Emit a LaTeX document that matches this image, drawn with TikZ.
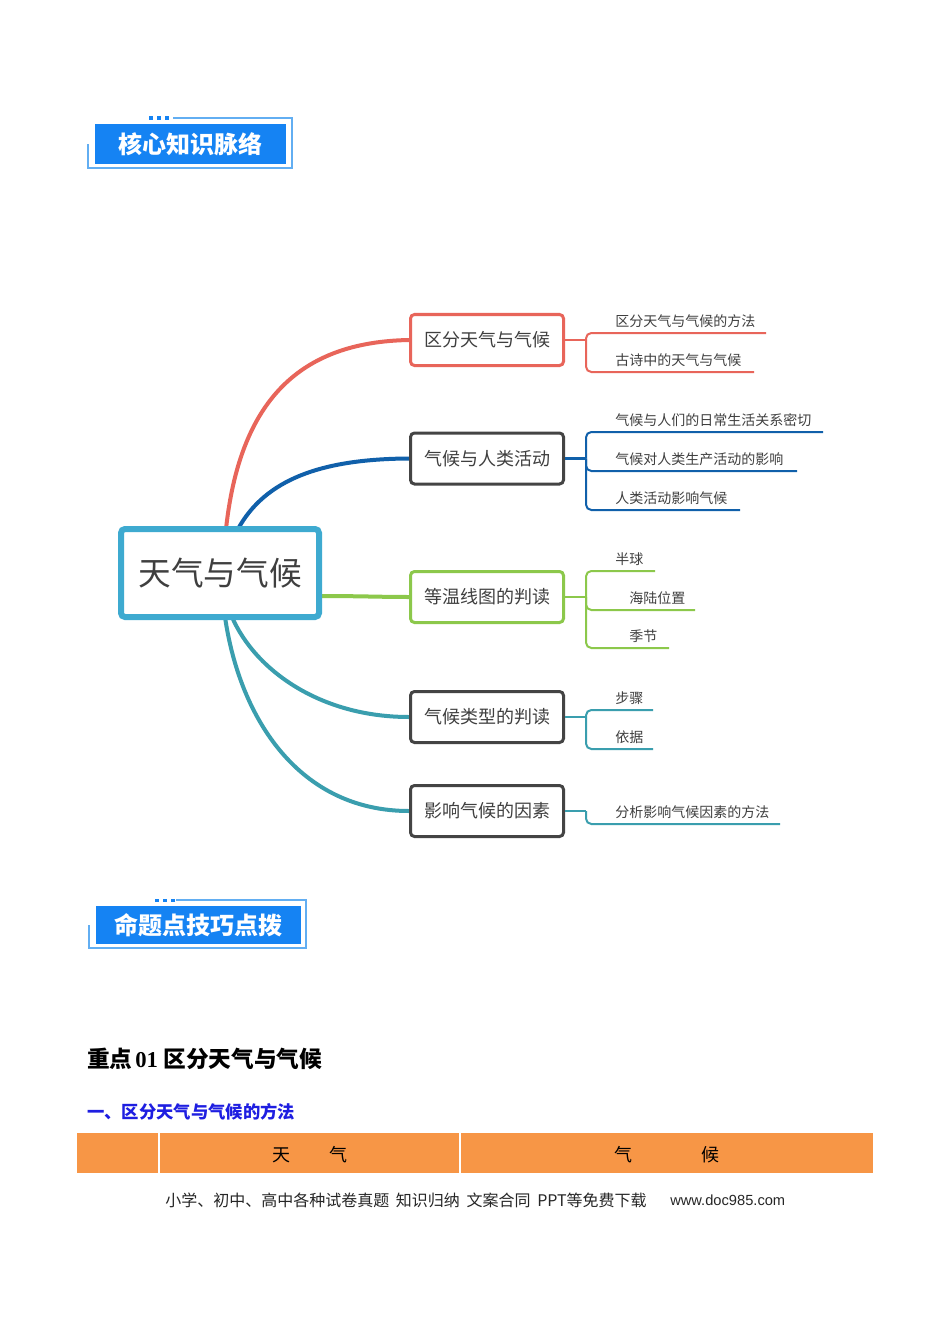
\documentclass[tikz,border=0pt]{standalone}
\usepackage{fontspec}
\newfontfamily\cjk{Noto Sans CJK SC}
\newfontfamily\lsans{Liberation Sans}
\newfontfamily\lserif{Liberation Serif}
\pgfdeclarelayer{bg}
\pgfsetlayers{bg,main}
\definecolor{cRed}{HTML}{E8655A}
\definecolor{cBlue}{HTML}{1060AA}
\definecolor{cGreen}{HTML}{8CC84B}
\definecolor{cTeal}{HTML}{3A9EAE}
\definecolor{cCenter}{HTML}{3EAAD0}
\definecolor{cGray}{HTML}{444444}
\definecolor{txt}{HTML}{3F3F3F}
\definecolor{badge}{HTML}{1583F3}
\definecolor{frameblue}{HTML}{62AEF2}
\definecolor{tblorange}{HTML}{F79646}
\definecolor{headblue}{RGB}{30,30,225}
\tikzset{
  box/.style={draw, rounded corners=3pt, line width=2.25pt, minimum width=114.75pt,
    minimum height=38.25pt, inner sep=0pt, fill=white, text=txt,
    font=\cjk\fontsize{13.5}{13.5}\selectfont},
  centerbox/.style={draw=cCenter, rounded corners=3pt, line width=4.5pt, minimum width=148.5pt,
    minimum height=66pt, inner sep=0pt, fill=white, text=txt,
    font=\cjk\fontsize{24.5}{24.5}\selectfont},
  branch/.style={line width=3pt},
  stem/.style={line width=1.8pt},
  leafline/.style={line width=1.5pt, rounded corners=4pt},
  leaf/.style={anchor=base west, inner sep=0pt, text=txt, font=\cjk\fontsize{10.5}{10.5}\selectfont},
  badgebox/.style={fill=badge, inner sep=0pt, text=white, font=\cjk\bfseries\fontsize{18}{18}\selectfont},
  badgeframe/.style={draw=frameblue, line width=1.1pt},
  cell/.style={inner sep=0pt, text=black, font=\cjk\fontsize{13.5}{13.5}\selectfont}
}
\begin{document}
\begin{tikzpicture}[x=0.75pt,y=-0.75pt]
\begin{pgfonlayer}{bg}
\fill[white] (0,0) rectangle (950,1344);
\end{pgfonlayer}
\useasboundingbox (0,0) rectangle (950,1344);

% ---- badge 1
\draw[badgeframe] (173,118) -- (292,118) -- (292,168) -- (88,168) -- (88,144);
\node[badgebox, minimum width=143.25pt, minimum height=30pt] (h1) at (190.5,144) {核心知识脉络};
\fill[badge] (149,116.5) rectangle (153,120);
\fill[badge] (157,116.5) rectangle (161,120);
\fill[badge] (165,116.5) rectangle (169,120);

% ---- mind map nodes
\node[centerbox] (c) at (220,573) {天气与气候};
\node[box, draw=cRed] (b1) at (487,340) {区分天气与气候};
\node[box, draw=cGray] (b2) at (487,458.5) {气候与人类活动};
\node[box, draw=cGreen] (b3) at (487,597) {等温线图的判读};
\node[box, draw=cGray] (b4) at (487,717) {气候类型的判读};
\node[box, draw=cGray] (b5) at (487,811) {影响气候的因素};

\begin{pgfonlayer}{bg}
\draw[branch, cRed] ([shift={(108,3)}]c.north west) .. controls (240,400) and (300,342) .. (b1.west);
\draw[branch, cBlue] ([shift={(120,3)}]c.north west) .. controls (265,480) and (320,459) .. (b2.west);
\draw[branch, cGreen] ([shift={(-3,-24)}]c.south east) .. controls (360,596) and (380,597) .. (b3.west);
\draw[branch, cTeal] ([shift={(114,-3)}]c.south west) .. controls (255,670) and (320,717) .. (b4.west);
\draw[branch, cTeal] ([shift={(107,-3)}]c.south west) .. controls (240,720) and (300,811) .. (b5.west);
\end{pgfonlayer}

% ---- leaves of b1
\coordinate (s1) at (586,340);
\coordinate (e11) at (766,333);
\coordinate (e12) at (754,372);
\draw[stem, cRed] (b1.east) -- (s1);
\draw[leafline, cRed] (s1) |- (e11);
\draw[leafline, cRed] (s1) |- (e12);
\node[leaf] (l11) at (615,326) {区分天气与气候的方法};
\node[leaf] (l12) at (615,365) {古诗中的天气与气候};

% ---- leaves of b2
\coordinate (s2) at (586,458.5);
\coordinate (e21) at (823,432);
\coordinate (e22) at (797,471);
\coordinate (e23) at (740,510);
\draw[stem, cBlue] (b2.east) -- (s2);
\draw[leafline, cBlue] (s2) |- (e21);
\draw[leafline, cBlue] (s2) |- (e22);
\draw[leafline, cBlue] (s2) |- (e23);
\node[leaf] (l21) at (615,425) {气候与人们的日常生活关系密切};
\node[leaf] (l22) at (615,464) {气候对人类生产活动的影响};
\node[leaf] (l23) at (615,503) {人类活动影响气候};

% ---- leaves of b3
\coordinate (s3) at (586,597);
\coordinate (e31) at (655,571);
\coordinate (e32) at (695,610);
\coordinate (e33) at (669,648);
\draw[stem, cGreen] (b3.east) -- (s3);
\draw[leafline, cGreen] (s3) |- (e31);
\draw[leafline, cGreen] (s3) |- (e32);
\draw[leafline, cGreen] (s3) |- (e33);
\node[leaf] (l31) at (615,564) {半球};
\node[leaf] (l32) at (629,603) {海陆位置};
\node[leaf] (l33) at (629,641) {季节};

% ---- leaves of b4
\coordinate (s4) at (586,717);
\coordinate (e41) at (653,710);
\coordinate (e42) at (653,749);
\draw[stem, cTeal] (b4.east) -- (s4);
\draw[leafline, cTeal] (s4) |- (e41);
\draw[leafline, cTeal] (s4) |- (e42);
\node[leaf] (l41) at (615,703) {步骤};
\node[leaf] (l42) at (615,742) {依据};

% ---- leaves of b5
\coordinate (s5) at (586,811);
\coordinate (e51) at (780,824);
\draw[stem, cTeal] (b5.east) -- (s5);
\draw[leafline, cTeal] (s5) |- (e51);
\node[leaf] (l51) at (615,817) {分析影响气候因素的方法};

% ---- badge 2
\draw[badgeframe] (176,900) -- (306,900) -- (306,948) -- (89,948) -- (89,925);
\node[badgebox, minimum width=153.75pt, minimum height=28.5pt] (h2) at (198.5,925) {命题点技巧点拨};
\fill[badge] (155,898.5) rectangle (159,902);
\fill[badge] (163,898.5) rectangle (167,902);
\fill[badge] (171,898.5) rectangle (175,902);

% ---- headings
\node[anchor=west, inner sep=0pt, text=black] (t1) at (87,1059)
  {\fontsize{17}{17}\selectfont\cjk\bfseries 重点\hspace{2pt}\lserif\bfseries 01 \cjk\bfseries 区分天气与气候};
\node[anchor=west, inner sep=0pt, text=headblue] (t2) at (87,1112)
  {\fontsize{13}{13}\selectfont\cjk\bfseries 一、区分天气与气候的方法};

% ---- table header
\fill[tblorange] (77,1133) rectangle (873,1173);
\draw[white, line width=0.8pt] (159,1133) -- (159,1173);
\draw[white, line width=0.8pt] (460,1133) -- (460,1173);
\node[cell] (k1) at (281,1155) {天};
\node[cell] (k2) at (338,1155) {气};
\node[cell] (k3) at (623,1155) {气};
\node[cell] (k4) at (710,1155) {候};

% ---- footer
\node[anchor=west, inner sep=0pt, text=black!85] (f1) at (165,1200)
  {\fontsize{12}{12}\selectfont\cjk 小学、初中、高中各种试卷真题\hspace{5pt}知识归纳\hspace{5pt}文案合同\hspace{5pt}PPT等免费下载};
\node[anchor=west, inner sep=0pt, text=black!85] (f2) at (670,1200)
  {\fontsize{11}{11}\selectfont\lsans www.doc985.com};
\end{tikzpicture}
\end{document}
